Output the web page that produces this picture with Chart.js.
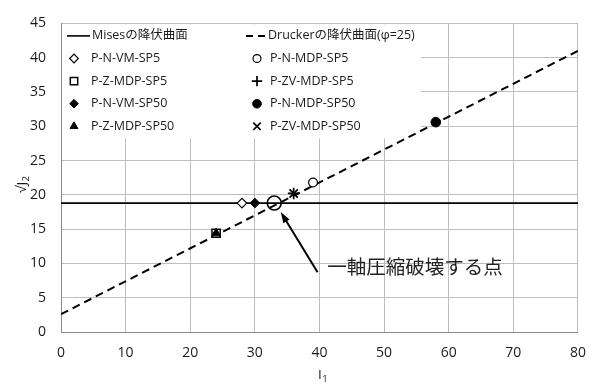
<!DOCTYPE html>
<html>
<head>
<meta charset="utf-8">
<script src="https://cdn.jsdelivr.net/npm/chart.js@4/dist/chart.umd.min.js"></script>
<style>
  html, body { margin: 0; padding: 0; background: #fff; }
  #wrap { width: 599px; height: 385px; }
</style>
</head>
<body>
<div id="wrap"><canvas id="chart" width="599" height="385"></canvas></div>
<script>
// Axis ranges and tick spacing
const i1Range = [0, 80];
const j2Range = [0, 45];
const i1Step = 10;
const j2Step = 5;

// Mises yield surface: constant √J2
const misesI1 = [0, 80];
const misesJ2 = [18.8, 18.8];

// Drucker yield surface (φ=25): straight line in I1–√J2 space
const druckerI1 = [0, 80];
const druckerJ2 = [2.6, 41.0];

// Test specimens
const specimenNames = [
  'P-N-VM-SP5', 'P-N-MDP-SP5',
  'P-Z-MDP-SP5', 'P-ZV-MDP-SP5',
  'P-N-VM-SP50', 'P-N-MDP-SP50',
  'P-Z-MDP-SP50', 'P-ZV-MDP-SP50'
];
const specimenI1 = [28, 39, 24, 36, 30, 58, 24, 36];
const specimenJ2 = [18.8, 21.8, 14.4, 20.2, 18.8, 30.6, 14.4, 20.2];

// Uniaxial compression failure point
const uniaxialI1 = [33];
const uniaxialJ2 = [18.8];

const misesLabel = 'Misesの降伏曲面';
const druckerLabel = 'Druckerの降伏曲面(φ=25)';
const calloutText = '一軸圧縮破壊する点';
const xTitle = ['I', '1'];
const yTitle = ['√J', '2'];

// Marker look for each specimen (same order as specimenNames)
const markerStyles = [
  { pointStyle: 'rectRot',  radius: 4.8, fill: '#fff', width: 1.2 },
  { pointStyle: 'circle',   radius: 4.4, fill: '#fff', width: 1.2 },
  { pointStyle: 'rect',     radius: 5.8, fill: '#fff', width: 1.5 },
  { pointStyle: 'cross',    radius: 5.8, fill: '#000', width: 1.7 },
  { pointStyle: 'rectRot',  radius: 4.8, fill: '#000', width: 1 },
  { pointStyle: 'circle',   radius: 4.8, fill: '#000', width: 1 },
  { pointStyle: 'triangle', radius: 5.0, fill: '#000', width: 1 },
  { pointStyle: 'crossRot', radius: 5.8, fill: '#000', width: 1.7 }
];

const FONT = '"Open Sans", "Noto Sans CJK JP", sans-serif';
const INK = '#1a1a1a';

const toPoints = (xs, ys) => xs.map((x, i) => ({ x, y: ys[i] }));

const datasets = [];
datasets.push({
  label: 'uniaxial',
  data: toPoints(uniaxialI1, uniaxialJ2),
  pointStyle: 'circle', pointRadius: 7, pointBorderWidth: 1.6,
  pointBackgroundColor: 'rgba(0,0,0,0)', pointBorderColor: '#000',
  showLine: false, order: 0
});
specimenNames.forEach((name, i) => {
  const m = markerStyles[i];
  datasets.push({
    label: name,
    data: toPoints([specimenI1[i]], [specimenJ2[i]]),
    pointStyle: m.pointStyle, pointRadius: m.radius, pointBorderWidth: m.width,
    pointBackgroundColor: m.fill, pointBorderColor: '#000',
    showLine: false,
    order: m.pointStyle === 'rect' ? 2 : 1
  });
});
datasets.push({
  label: misesLabel,
  data: toPoints(misesI1, misesJ2),
  borderColor: '#000', borderWidth: 1.8, pointRadius: 0,
  showLine: true, order: 3
});
datasets.push({
  label: druckerLabel,
  data: toPoints(druckerI1, druckerJ2),
  borderColor: '#000', borderWidth: 2, borderDash: [8, 5], pointRadius: 0,
  showLine: true, order: 3
});

// Legend, callout and axis titles drawn on the canvas
const overlay = {
  id: 'overlay',
  beforeDatasetsDraw(chart) {
    const { ctx, chartArea: a } = chart;
    ctx.save();
    ctx.fillStyle = '#fff';
    ctx.fillRect(a.left + 1, a.top + 1, 359, 114);

    const rowY = r => a.top + 12.5 + r * 22.6;
    const colMark = [a.left + 13, a.left + 196];
    const colText = [a.left + 30, a.left + 209];

    ctx.font = '12.5px ' + FONT;
    ctx.fillStyle = INK;
    ctx.textBaseline = 'middle';
    ctx.textAlign = 'left';

    // line entries
    ctx.strokeStyle = '#000';
    ctx.lineWidth = 1.6;
    ctx.beginPath();
    ctx.moveTo(a.left + 6, rowY(0));
    ctx.lineTo(a.left + 29, rowY(0));
    ctx.stroke();
    ctx.fillText(misesLabel, a.left + 31, rowY(0));

    ctx.lineWidth = 2;
    ctx.setLineDash([7, 5]);
    ctx.beginPath();
    ctx.moveTo(a.left + 185, rowY(0));
    ctx.lineTo(a.left + 205, rowY(0));
    ctx.stroke();
    ctx.setLineDash([]);
    ctx.fillText(druckerLabel, a.left + 207, rowY(0));

    // marker entries
    specimenNames.forEach((name, i) => {
      const m = markerStyles[i];
      const col = i % 2, row = Math.floor(i / 2) + 1;
      ctx.fillStyle = m.fill;
      ctx.strokeStyle = '#000';
      ctx.lineWidth = m.width;
      Chart.helpers.drawPoint(ctx, {
        pointStyle: m.pointStyle, radius: m.radius * 0.9, rotation: 0, borderWidth: m.width
      }, colMark[col], rowY(row));
      ctx.fillStyle = INK;
      ctx.fillText(name, colText[col], rowY(row));
    });
    ctx.restore();
  },
  afterDatasetsDraw(chart) {
    const { ctx } = chart;
    const xs = chart.scales.x, ys = chart.scales.y;
    const px = v => xs.getPixelForValue(v), py = v => ys.getPixelForValue(v);
    const tail = [39.7, 8.7], tip = [34.0, 17.5], labelAt = [41.2, 9.6];
    const x0 = px(tail[0]), y0 = py(tail[1]), x1 = px(tip[0]), y1 = py(tip[1]);
    const ang = Math.atan2(y1 - y0, x1 - x0);
    const headLen = 11, headHalf = 3.6;
    ctx.save();
    ctx.strokeStyle = '#000';
    ctx.fillStyle = '#000';
    ctx.lineWidth = 2;
    ctx.beginPath();
    ctx.moveTo(x0, y0);
    ctx.lineTo(x1 - Math.cos(ang) * headLen * 0.8, y1 - Math.sin(ang) * headLen * 0.8);
    ctx.stroke();
    ctx.beginPath();
    ctx.moveTo(x1, y1);
    ctx.lineTo(x1 - Math.cos(ang) * headLen - Math.sin(ang) * headHalf,
               y1 - Math.sin(ang) * headLen + Math.cos(ang) * headHalf);
    ctx.lineTo(x1 - Math.cos(ang) * headLen + Math.sin(ang) * headHalf,
               y1 - Math.sin(ang) * headLen - Math.cos(ang) * headHalf);
    ctx.closePath();
    ctx.fill();

    ctx.font = '19.5px "Noto Sans CJK JP", sans-serif';
    ctx.fillStyle = '#222';
    ctx.textAlign = 'left';
    ctx.textBaseline = 'middle';
    ctx.fillText(calloutText, px(labelAt[0]), py(labelAt[1]));
    ctx.restore();
  },
  afterDraw(chart) {
    const { ctx, chartArea: a } = chart;
    const drawSub = (parts, cx, cy) => {
      ctx.font = '13.5px ' + FONT;
      const w1 = ctx.measureText(parts[0]).width;
      ctx.font = '9.5px ' + FONT;
      const w2 = ctx.measureText(parts[1]).width;
      const start = cx - (w1 + w2) / 2;
      ctx.textAlign = 'left';
      ctx.textBaseline = 'middle';
      ctx.font = '13.5px ' + FONT;
      ctx.fillText(parts[0], start, cy);
      ctx.font = '9.5px ' + FONT;
      ctx.fillText(parts[1], start + w1 + 0.5, cy + 4);
    };
    ctx.save();
    ctx.fillStyle = INK;
    drawSub(xTitle, (a.left + a.right) / 2 + 3, 375);
    ctx.translate(22, (a.top + a.bottom) / 2 + 7);
    ctx.rotate(-Math.PI / 2);
    drawSub(yTitle, 0, 0);
    ctx.restore();
  }
};

const gridColor = '#bdbdbd';
const axisColor = '#8a8a8a';

new Chart(document.getElementById('chart'), {
  type: 'scatter',
  data: { datasets },
  plugins: [overlay],
  options: {
    responsive: false,
    animation: false,
    devicePixelRatio: 1,
    events: [],
    layout: { padding: { left: 0, right: 13, top: 11, bottom: 0 } },
    plugins: { legend: { display: false }, tooltip: { enabled: false } },
    scales: {
      x: {
        type: 'linear', min: i1Range[0], max: i1Range[1],
        ticks: { stepSize: i1Step, padding: 13, color: INK, font: { family: FONT, size: 14 } },
        grid: { color: gridColor, lineWidth: 1, drawTicks: false },
        border: { color: axisColor, width: 1 },
        afterFit(s) { s.height = 53; }
      },
      y: {
        type: 'linear', min: j2Range[0], max: j2Range[1],
        ticks: { stepSize: j2Step, padding: 15, color: INK, font: { family: FONT, size: 14 } },
        grid: { color: gridColor, lineWidth: 1, drawTicks: false },
        border: { color: axisColor, width: 1 },
        afterFit(s) { s.width = 61; }
      }
    }
  }
});
</script>
</body>
</html>
